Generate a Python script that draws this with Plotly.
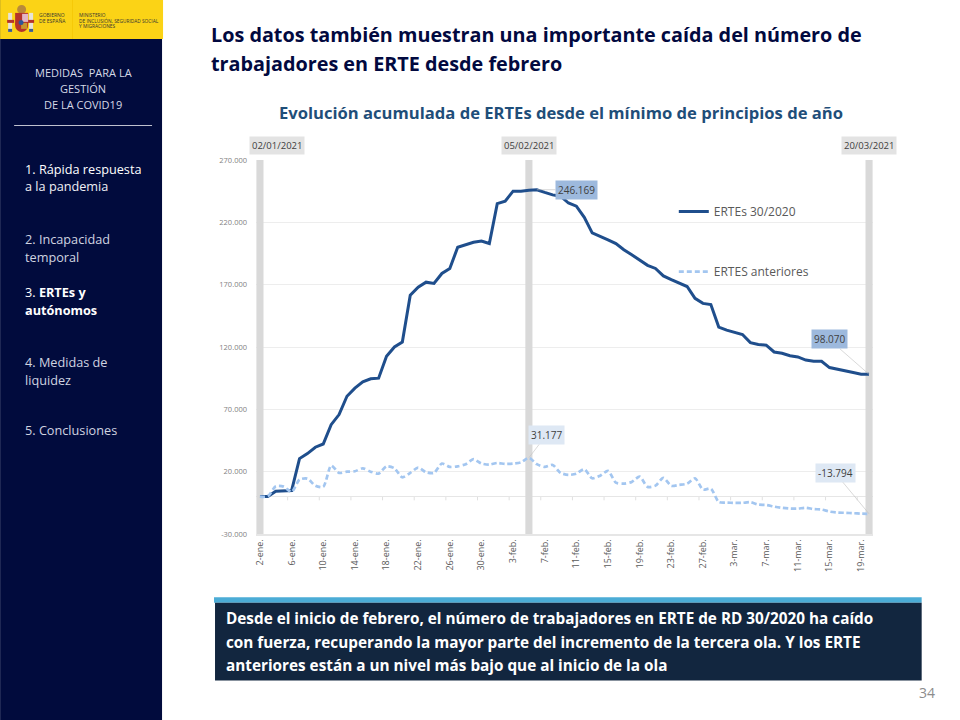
# -*- coding: utf-8 -*-
import pandas as pd
import plotly.graph_objects as go

# Datos, un valor por dia del 2-ene al 20-mar de 2021
fechas = pd.date_range("2021-01-02", "2021-03-20", freq="D")
ertes_30_2020 = [0, 0, 4300, 4800, 4800, 30500, 34500, 39600, 42200, 57700, 65800, 80500, 87000,
                 92000, 94500, 95000, 112500, 120000, 124000, 161500, 168000, 172000, 171000, 179000,
                 183000, 200000, 202000, 204000, 205000, 203000, 235000, 237000, 245000, 245000,
                 245700, 246169, 244000, 242000, 241000, 235500, 233000, 224000, 211500, 209000,
                 206000, 203000, 198000, 194000, 189500, 185500, 183000, 177000, 174000, 171000,
                 168500, 159000, 155000, 154000, 136000, 133500, 132000, 130000, 123500, 122000,
                 121500, 116000, 115000, 113000, 112000, 109500, 108500, 108500, 103500, 102000,
                 101000, 99500, 98200, 98070]
ertes_anteriores = [0, 300, 8300, 8000, 3700, 13600, 14400, 8800, 7800, 24900, 19000, 20000, 20300,
                    22700, 20000, 18400, 24300, 22700, 15500, 19000, 23300, 19500, 19000, 26500,
                    23800, 24300, 26000, 30000, 26500, 25700, 27000, 26200, 26500, 27500, 31177,
                    26000, 23800, 25400, 19000, 17400, 18400, 22000, 14700, 16800, 20600, 11200,
                    10400, 11800, 16000, 7800, 8800, 15000, 8600, 9400, 10400, 14700, 5600, 6400,
                    -4300, -4800, -5000, -5000, -4500, -6400, -6700, -8000, -9000, -9600, -9600,
                    -9000, -10000, -10400, -12000, -12800, -13000, -13300, -13700, -13794]

y_ticks = [-30000, 20000, 70000, 120000, 170000, 220000, 270000]
y_labels = ["-30.000", "20.000", "70.000", "120.000", "170.000", "220.000", "270.000"]
x_labels = ["2-ene.", "6-ene.", "10-ene.", "14-ene.", "18-ene.", "22-ene.", "26-ene.", "30-ene.",
            "3-feb.", "7-feb.", "11-feb.", "15-feb.", "19-feb.", "23-feb.", "27-feb.",
            "3-mar.", "7-mar.", "11-mar.", "15-mar.", "19-mar."]
x_ticks = fechas[::4]

fechas_marca = ["2021-01-02", "2021-02-05", "2021-03-20"]
textos_marca = ["02/01/2021", "05/02/2021", "20/03/2021"]

# Zona del grafico en pixeles de la pagina
L, R, T, B = 256, 873.3, 160, 533.7
W, H = 960, 720
FUENTE = "Open Sans"


def px_x(x):
    return (x - L) / (R - L)


def px_y(y):
    return (B - y) / (B - T)


fig = go.Figure()

# Bandas grises de las tres fechas
fig.add_trace(go.Bar(x=fechas_marca, y=[305500] * 3, base=-30000,
                     width=0.9 * 86400000, marker={'color': '#D9D9D9', 'line': {'width': 0}},
                     cliponaxis=False, showlegend=False, hoverinfo='skip'))

fig.add_trace(go.Scatter(x=fechas, y=ertes_30_2020, mode='lines', name='ERTEs 30/2020',
                         legendgroup='a', line={'color': '#1F4E8C', 'width': 3}))
fig.add_trace(go.Scatter(x=fechas, y=ertes_anteriores, mode='lines', name='ERTES anteriores',
                         legendgroup='b', line={'color': '#A3C6F0', 'width': 2.7, 'dash': '5px,3px',
                                                'shape': 'spline', 'smoothing': 0.7}))

shapes = []
annots = []


def rect(x0, y0, x1, y1, color):
    shapes.append({'type': 'rect', 'xref': 'paper', 'yref': 'paper', 'layer': 'below',
                   'x0': px_x(x0), 'x1': px_x(x1), 'y0': px_y(y0), 'y1': px_y(y1),
                   'fillcolor': color, 'line': {'width': 0}})


def circulo(x0, y0, x1, y1, color):
    shapes.append({'type': 'circle', 'xref': 'paper', 'yref': 'paper', 'layer': 'below',
                   'x0': px_x(x0), 'x1': px_x(x1), 'y0': px_y(y0), 'y1': px_y(y1),
                   'fillcolor': color, 'line': {'width': 0}})


def texto(x, y, s, size, color, anchor='left'):
    # las anotaciones dejan 2px de aire a la izquierda
    if anchor == 'left':
        x = x - 2
    annots.append({'xref': 'paper', 'yref': 'paper', 'x': px_x(x), 'y': px_y(y), 'text': s,
                   'showarrow': False, 'xanchor': anchor, 'yanchor': 'middle',
                   'font': {'family': FUENTE, 'size': size, 'color': color}})


# Barra lateral y cabecera amarilla
rect(0, 0, 162, 720, '#010B3D')
rect(0, 0, 163, 39, '#FBD316')
rect(72, 0, 72.6, 39, '#F3C400')
texto(39, 15.5, "GOBIERNO", 5, '#333333')
texto(39, 21, "DE ESPAÑA", 5, '#333333')
texto(79, 15.5, "MINISTERIO", 4.8, '#333333')
texto(79, 21, "DE INCLUSIÓN, SEGURIDAD SOCIAL", 4.8, '#333333')
texto(79, 26, "Y MIGRACIONES", 4.8, '#333333')
# escudo, muy simplificado
rect(8, 13, 12, 32, '#E8E4D8')
rect(29, 13, 33, 32, '#E8E4D8')
rect(8, 29, 12, 32, '#3F5C8A')
rect(29, 29, 33, 32, '#3F5C8A')
rect(7, 20, 14, 23, '#B5332A')
rect(27, 20, 34, 23, '#B5332A')
circulo(17, 5, 26, 14, '#B98A3A')
rect(15, 13, 28, 25, '#B5332A')
circulo(15, 19, 28, 32, '#B5332A')
rect(22, 14, 28, 22, '#E3B5C4')
rect(21, 23, 27, 29, '#C8962E')
circulo(18.5, 20, 23.5, 25, '#2F5597')

rect(14, 125, 152, 125.8, '#FFFFFF')
for yy, s in zip([73, 89, 105], ["MEDIDAS  PARA LA", "GESTIÓN", "DE LA COVID19"]):
    texto(83, yy, s, 11, '#D5D9E6', 'center')
menu = [(169, "1. Rápida respuesta", '#FFFFFF'), (186, "a la pandemia", '#F0F0F5'),
        (239, "2. Incapacidad", '#D0D4E0'), (257, "temporal", '#D0D4E0'),
        (292, "3. <b>ERTEs y</b>", '#FFFFFF'), (310, "<b>autónomos</b>", '#FFFFFF'),
        (362, "4. Medidas de", '#D0D4E0'), (380, "liquidez", '#D0D4E0'), (430, "5. Conclusiones", '#D0D4E0')]
for yy, s, c in menu:
    texto(25, yy, s, 12.7, c)

# Titulos
texto(211, 35, "<b>Los datos también muestran una importante caída del número de</b>", 19.8, '#02093F')
texto(211, 64, "<b>trabajadores en ERTE desde febrero</b>", 19.8, '#02093F')
texto(561, 113, "<b>Evolución acumulada de ERTEs desde el mínimo de principios de año</b>", 16.6, '#1F4E79', 'center')

# Caja inferior
rect(214, 597, 922, 602.5, '#4BACD6')
rect(215, 602.5, 922, 680, '#12263F')
texto(226, 618, "<b>Desde el inicio de febrero, el número de trabajadores en ERTE de RD 30/2020 ha caído</b>", 15.3, '#FFFFFF')
texto(226, 642, "<b>con fuerza, recuperando la mayor parte del incremento de la tercera ola. Y los ERTE</b>", 15.3, '#FFFFFF')
texto(226, 664.5, "<b>anteriores están a un nivel más bajo que al inicio de la ola</b>", 15.3, '#FFFFFF')
texto(927, 692, "34", 14, '#8C8C8C', 'center')

# Marcas de eje sobre el cero
for d in fechas[3:-1:4]:
    t = d + pd.Timedelta(hours=12)
    shapes.append({'type': 'line', 'xref': 'x', 'yref': 'y', 'layer': 'below', 'x0': t, 'x1': t,
                   'y0': 0, 'y1': -3000, 'line': {'color': '#E0E0E0', 'width': 1}})

# Cajas de las fechas arriba
for f, s, dx in zip(fechas_marca, textos_marca, [17, 0, 0]):
    annots.append({'xref': 'x', 'yref': 'paper', 'x': f, 'y': px_y(145.5), 'xshift': dx, 'text': s,
                   'showarrow': False, 'bgcolor': '#E3E3E3', 'borderpad': 2, 'xanchor': 'center',
                   'yanchor': 'middle', 'font': {'family': FUENTE, 'size': 9.5, 'color': '#404040'}})


# Etiquetas de datos
def etiqueta(fecha, serie, s, ax, ay, fondo):
    annots.append({'x': fecha, 'y': serie[list(fechas).index(pd.Timestamp(fecha))], 'xref': 'x', 'yref': 'y',
                   'text': s, 'showarrow': True, 'arrowhead': 0, 'arrowwidth': 0.6, 'arrowcolor': '#BFBFBF',
                   'ax': ax, 'ay': ay, 'bgcolor': fondo, 'borderpad': 2,
                   'font': {'family': FUENTE, 'size': 10, 'color': '#404040'}})


etiqueta("2021-02-06", ertes_30_2020, "246.169", 39.6, 0, '#9DB9DD')
etiqueta("2021-03-20", ertes_30_2020, "98.070", -40, -35, '#9DB9DD')
etiqueta("2021-02-05", ertes_anteriores, "31.177", 17.5, -22.7, '#DEE8F4')
etiqueta("2021-03-20", ertes_anteriores, "-13.794", -34, -41, '#DEE8F4')

fig.update_layout(
    width=W, height=H, autosize=False,
    margin={'l': L, 'r': W - R, 't': T, 'b': H - B, 'pad': 0},
    paper_bgcolor='white', plot_bgcolor='white',
    font={'family': FUENTE, 'color': '#595959'},
    shapes=shapes, annotations=annots, barmode='overlay',
    legend={'x': px_x(674), 'y': px_y(197), 'xanchor': 'left', 'yanchor': 'top',
            'bgcolor': 'rgba(0,0,0,0)', 'tracegroupgap': 41, 'font': {'size': 12, 'color': '#595959'},
            'itemwidth': 30},
    xaxis={'type': 'date', 'range': ['2021-01-01 12:00', '2021-03-20 12:00'], 'tickvals': list(x_ticks),
           'ticktext': x_labels, 'tickangle': -90, 'tickfont': {'size': 9, 'color': '#595959'},
           'showgrid': False, 'showline': True, 'linecolor': '#E6E6E6', 'linewidth': 1.5, 'ticks': ''},
    yaxis={'range': [-30000, 270000], 'tickvals': y_ticks, 'ticktext': y_labels, 'ticklabelstandoff': 8,
           'tickfont': {'size': 7.5, 'color': '#7F7F7F'}, 'showgrid': True, 'gridcolor': '#EDEDED', 'gridwidth': 1.2,
           'zeroline': True, 'zerolinecolor': '#E6E6E6', 'zerolinewidth': 1, 'ticks': ''},
)

fig.write_html("out.html", config={'displayModeBar': False},
               post_script="document.body.style.margin='0';")
